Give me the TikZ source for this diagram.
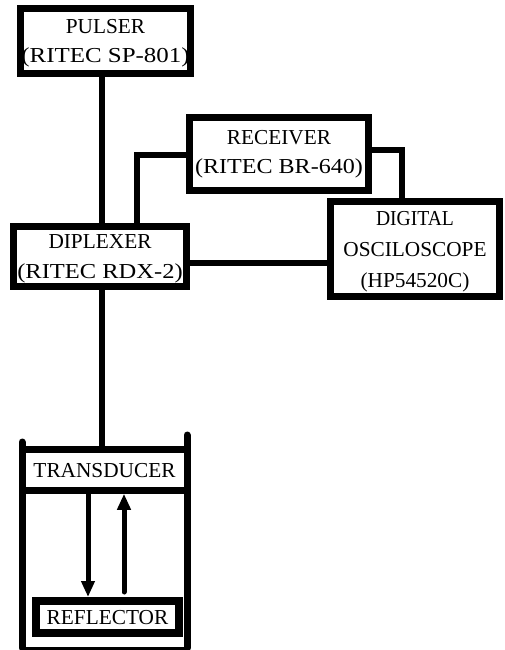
\documentclass[tikz,border=0pt]{standalone}
\usepackage{fontspec}
\usepackage{graphicx}
\setmainfont{Liberation Serif}
\usetikzlibrary{arrows.meta}
\newcommand\wideline[2]{\scalebox{#1}[1]{#2}}
\begin{document}
\begin{tikzpicture}[x=1pt,y=-1pt,
  box/.style={draw,line width=7pt,align=center,inner sep=0pt,fill=white,text depth=0pt,font=\fontsize{21.3}{29.5}\selectfont},
  wire/.style={line width=6pt},
  wall/.style={line width=7pt,line cap=round},
  sig/.style={line width=5pt,-{Triangle[length=16pt,width=13pt]}}]
\useasboundingbox (0,0) rectangle (505,650);
% coordinates for wire positions
\coordinate (xa) at (102,0);
\coordinate (xb) at (137,0);
\coordinate (xc) at (402,0);
\coordinate (ya) at (0,155);
\coordinate (yb) at (0,150);
\coordinate (yc) at (0,263);
\coordinate (xd) at (88,0);
\coordinate (xe) at (124,0);
\coordinate (ye) at (0,592);
% container walls
\coordinate (wl1) at (22,442);
\coordinate (wl2) at (22,648);
\coordinate (wr1) at (187,435);
\coordinate (wr2) at (187,648);
\draw[wall] (wl1) -- (wl2);
\draw[wall] (wr1) -- (wr2);
\draw[line width=3pt] (wl2) -- (wr2);
% boxes
\node[box,text depth=-5pt,minimum width=170pt,minimum height=65pt] (pulser) at (105.5,41) {PULSER\\\wideline{1.17}{(RITEC SP-801)}};
\node[box,text depth=,minimum width=179pt,minimum height=73pt] (recv) at (279,154) {RECEIVER\\\wideline{1.13}{(RITEC BR-640)}};
\node[box,text depth=-6pt,minimum width=173pt,minimum height=60pt] (dipl) at (100,256.5) {DIPLEXER\\\wideline{1.15}{(RITEC RDX-2)}};
\node[box,minimum width=169pt,minimum height=95pt,font=\fontsize{21.3}{31}\selectfont] (osc) at (415,249) {\wideline{0.92}{DIGITAL}\\OSCILOSCOPE\\(HP54520C)};
\node[box,minimum width=165pt,minimum height=40.5pt] (trans) at (104.5,470) {TRANSDUCER};
\node[box,line width=8pt,minimum width=143pt,minimum height=32pt] (refl) at (107.5,617) {REFLECTOR};
% wires
\draw[wire] (pulser.south -| xa) -- (dipl.north -| xa);
\draw[wire] (recv.west |- ya) -- (xb |- ya) -- (dipl.north -| xb);
\draw[wire] (recv.east |- yb) -- (xc |- yb) -- (osc.north -| xc);
\draw[wire] (dipl.east |- yc) -- (osc.west |- yc);
\draw[wire] (dipl.south -| xa) -- (trans.north -| xa);
% signal arrows
\draw[sig] (trans.south -| xd) -- (refl.north -| xd);
\draw[sig,line cap=round] (xe |- ye) -- (trans.south -| xe);
\end{tikzpicture}
\end{document}
